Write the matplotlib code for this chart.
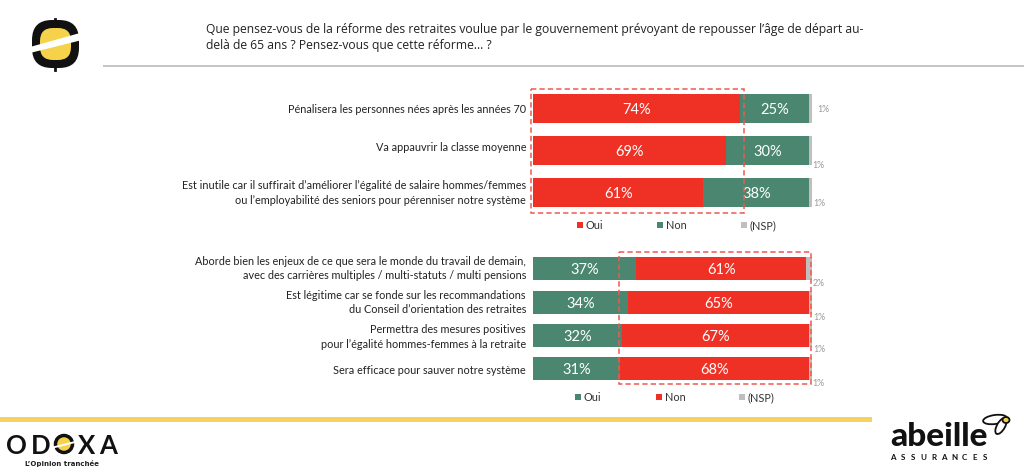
#!/usr/bin/env python3
import matplotlib
matplotlib.use("Agg")
import matplotlib.pyplot as plt
from matplotlib.patches import Rectangle, Ellipse, FancyBboxPatch, Polygon

W, H = 1024, 472

RED = "#ee3124"
GREEN = "#4a8670"
GREY = "#bfbfbf"

title_lines = [
    "Que pensez-vous de la réforme des retraites voulue par le gouvernement prévoyant de repousser l’âge de départ au-",
    "delà de 65 ans ? Pensez-vous que cette réforme… ?",
]

top_labels = [
    "Pénalisera les personnes nées après les années 70",
    "Va appauvrir la classe moyenne",
    "Est inutile car il suffirait d’améliorer l’égalité de salaire hommes/femmes\nou l’employabilité des seniors pour pérenniser notre système",
]
top_oui = [74, 69, 61]
top_non = [25, 30, 38]
top_nsp = [1, 1, 1]

bottom_labels = [
    "Aborde bien les enjeux de ce que sera le monde du travail de demain,\navec des carrières multiples / multi-statuts / multi pensions",
    "Est légitime car se fonde sur les recommandations\ndu Conseil d’orientation des retraites",
    "Permettra des mesures positives\npour l’égalité hommes-femmes à la retraite",
    "Sera efficace pour sauver notre système",
]
bottom_oui = [37, 34, 32, 31]
bottom_non = [61, 65, 67, 68]
bottom_nsp = [2, 1, 1, 1]

legend_names = ["Oui", "Non", "(NSP)"]

plt.rcParams["font.family"] = ["Lato", "DejaVu Sans"]


def px_axes(fig, x0, y0, x1, y1):
    return fig.add_axes([x0 / W, 1 - y1 / H, (x1 - x0) / W, (y1 - y0) / H])


def stacked(ax, first, second, third, c1, c2, c3, height):
    ys = list(range(len(first)))
    ax.barh(ys, first, height, color=c1, edgecolor="none")
    ax.barh(ys, second, height, left=first, color=c2, edgecolor="none")
    lefts = [a + b for a, b in zip(first, second)]
    ax.barh(ys, third, height, left=lefts, color=c3, edgecolor="none")
    ax.set_xlim(0, 100)
    ax.set_ylim(len(first) - 0.5, -0.5)
    ax.axis("off")
    for i in ys:
        ax.text(first[i] / 2, i, "%d%%" % first[i], color="white", fontsize=10.5,
                ha="center", va="center_baseline")
        ax.text(first[i] + second[i] / 2, i, "%d%%" % second[i], color="white", fontsize=10.5,
                ha="center", va="center_baseline")


fig = plt.figure(figsize=(W / 100, H / 100), dpi=100, facecolor="white")

# bars
ax_top = px_axes(fig, 533.3, 87.3, 812, 213.7)
stacked(ax_top, top_oui, top_non, top_nsp, RED, GREEN, GREY, 0.68)
ax_bottom = px_axes(fig, 533.3, 252.3, 812, 385.3)
stacked(ax_bottom, bottom_oui, bottom_non, bottom_nsp, GREEN, RED, GREY, 0.69)

# everything else in pixel coordinates
ov = fig.add_axes([0, 0, 1, 1], zorder=5)
ov.set_xlim(0, W)
ov.set_ylim(H, 0)
ov.axis("off")
ov.patch.set_alpha(0)

ov.text(206, 29, title_lines[0], family="Open Sans", fontsize=8.75, color="#222222", va="center")
ov.text(206, 46, title_lines[1], family="Open Sans", fontsize=8.75, color="#222222", va="center")
ov.plot([104, 1023], [65.5, 65.5], color="#c4c4c4", lw=1.4)

# row labels
for lab, y in zip(top_labels, [109.5, 147.5, 193]):
    ov.text(526, y, lab, ha="right", va="center", fontsize=7.85, color="#222222", linespacing=1.35)
for lab, y in zip(bottom_labels, [268.5, 302.5, 337, 371]):
    ov.text(526, y, lab, ha="right", va="center", fontsize=7.85, color="#222222", linespacing=1.35)

# small NSP labels
for val, x, y in zip(top_nsp, [817, 812, 813], [109, 165, 203.5]):
    ov.text(x, y, "%d%%" % val, fontsize=6.3, color="#999999", va="center")
for val, x, y in zip(bottom_nsp, [813, 813, 813, 812], [284, 317, 350, 383]):
    ov.text(x, y, "%d%%" % val, fontsize=6.3, color="#999999", va="center")

# legends
for name, col, x in zip(legend_names, [RED, GREEN, GREY], [577, 657, 741]):
    ov.add_patch(Rectangle((x, 222), 6, 6, color=col, lw=0))
    ov.text(x + 9, 225.3, name, fontsize=7.8, color="#333333", va="center")
for name, col, x in zip(legend_names, [GREEN, RED, GREY], [575, 655.5, 739]):
    ov.add_patch(Rectangle((x, 394), 6, 6, color=col, lw=0))
    ov.text(x + 9, 397.3, name, fontsize=7.8, color="#333333", va="center")

# dashed highlight boxes
for x0, y0, x1, y1 in [(530.7, 88.7, 744, 213), (618.7, 252.3, 811, 384.3)]:
    ov.add_patch(Rectangle((x0, y0), x1 - x0, y1 - y0, fill=False, ec="#ef5a50",
                           lw=1.1, ls=(0, (3.5, 2))))

# footer rule
ov.add_patch(Rectangle((0, 417), 872, 5, color="#f5d35e", lw=0))

# top-left logo
ov.add_patch(FancyBboxPatch((39, 27), 33, 34, boxstyle="round,pad=7,rounding_size=20",
                            fc="#111111", ec="none"))
ov.plot([55, 55], [18.5, 24], color="#111111", lw=2)
ov.plot([55, 55], [64, 69.5], color="#111111", lw=2)
ov.add_patch(FancyBboxPatch((45, 33), 21, 22, boxstyle="round,pad=5,rounding_size=13",
                            fc="#f5d24a", ec="none"))
ov.add_patch(Polygon([(30, 47), (80, 33), (80, 40.5), (30, 53)], fc="white", ec="none"))

# Odoxa logo
for ch, x in zip("ODXA", [16.5, 41, 87, 108.5]):
    ov.text(x, 444, ch, fontsize=18.5, fontweight="bold", color="#111111",
            ha="center", va="center_baseline")
ov.add_patch(Ellipse((64, 444), 17, 17, fc="#f5d24a", ec="#111111", lw=2.5))
ov.add_patch(Polygon([(53, 446.5), (75, 441), (75, 443), (53, 448.5)], fc="white", ec="none"))
ov.text(62, 463.5, "L’Opinion tranchée", family="DejaVu Sans", fontsize=5, fontweight="bold",
        color="#222222", ha="center", va="center")

# Abeille logo
ov.text(939, 434, "abeille", fontsize=24, fontweight="black", color="#111111",
        ha="center", va="center_baseline")
for i, ch in enumerate("ASSURANCES"):
    ov.text(893 + i * 10.2, 453.5, ch, fontsize=5.8, fontweight="bold", color="#111111",
            ha="center", va="top")
ov.add_patch(Ellipse((995, 419.5), 24, 9, angle=-8, fc="white", ec="#111111", lw=1.3))
ov.add_patch(Ellipse((1001, 426), 8, 18, angle=30, fc="white", ec="#111111", lw=1.3))
ov.add_patch(Ellipse((1006, 420), 7, 6, fc="#f5d24a", ec="#111111", lw=1.3))

fig.savefig("out.png", dpi=100)
